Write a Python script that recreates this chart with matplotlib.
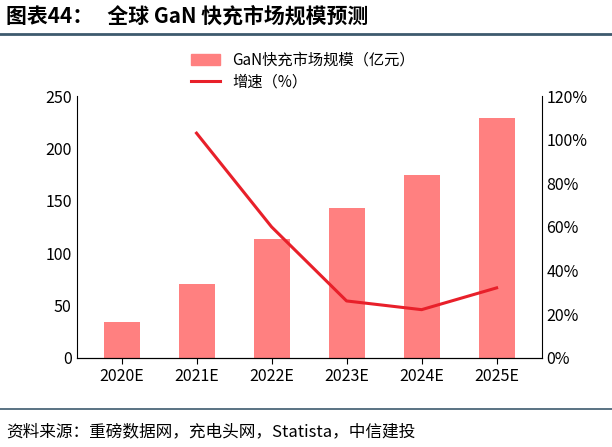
import matplotlib
matplotlib.use('Agg')
import matplotlib.pyplot as plt
from matplotlib.lines import Line2D

plt.rcParams['font.family'] = ['Noto Sans CJK SC', 'DejaVu Sans']

years = ['2020E', '2021E', '2022E', '2023E', '2024E', '2025E']
market = [34, 70, 113, 143, 175, 229]
growth_years = [1, 2, 3, 4, 5]
growth = [103, 60, 26, 22, 32]

fig = plt.figure(figsize=(6.12, 4.47), dpi=100)
ax = fig.add_axes([0.125, 0.2, 0.76, 0.585])
x = list(range(len(years)))
ax.bar(x, market, width=0.48, color='#ff8080', label='GaN快充市场规模（亿元）')
ax.set_ylim(0, 250)
ax.set_yticks(range(0, 251, 50))
ax.set_xlim(-0.6, 5.6)
ax.set_xticks(x)
ax.set_xticklabels(years)
for s in ['top', 'right']:
    ax.spines[s].set_visible(False)
ax.tick_params(labelsize=11.5, length=0)
ax.tick_params(axis='x', length=4, direction='out')

ax2 = ax.twinx()
ax2.plot(growth_years, growth, color='#e8202a', lw=2.2, label='增速（%）')
ax2.set_ylim(0, 120)
ax2.set_yticks(range(0, 121, 20))
ax2.set_yticklabels([f'{v}%' for v in range(0, 121, 20)])
ax2.tick_params(labelsize=11.5, length=0)
for s in ['top', 'left']:
    ax2.spines[s].set_visible(False)

handles = [plt.Rectangle((0, 0), 1, 1, color='#ff8080'),
           Line2D([], [], color='#e8202a', lw=2.2)]
fig.legend(handles, ['GaN快充市场规模（亿元）', '增速（%）'], loc='upper left',
           bbox_to_anchor=(0.29, 0.915), frameon=False, fontsize=11,
           handlelength=1.9, labelspacing=0.3)

fig.text(0.01, 0.965, '图表44：   全球 GaN 快充市场规模预测', fontsize=15,
         fontweight='bold', va='center')
fig.add_artist(Line2D([0, 1], [0.925, 0.925], color='#3d5a6e', lw=2))
fig.add_artist(Line2D([0, 1], [0.085, 0.085], color='#3d5a6e', lw=1.2))
fig.text(0.01, 0.035, '资料来源：重磅数据网，充电头网，Statista，中信建投', fontsize=12,
         style='italic', va='center')

fig.savefig('out.png', dpi=100)
